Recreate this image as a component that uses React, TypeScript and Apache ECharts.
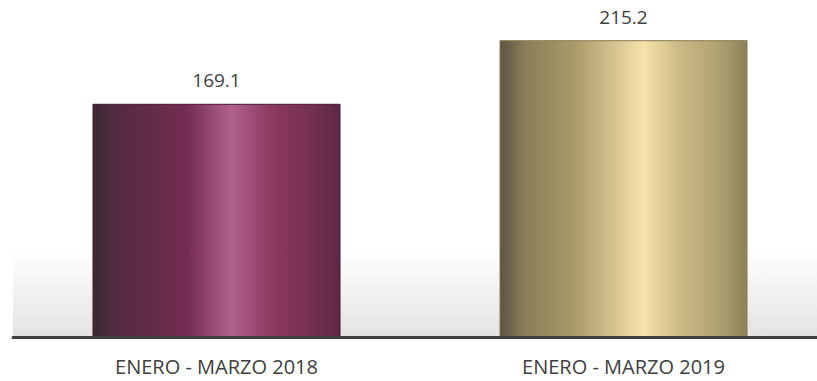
import React, { useEffect, useRef } from "react";
import * as echarts from "echarts";

const categories = ["ENERO - MARZO 2018", "ENERO - MARZO 2019"];
const values = [169.1, 215.2];
const yMax = 240;

const maroon = new echarts.graphic.LinearGradient(0, 0, 1, 0, [
  { offset: 0, color: "#3b2a33" },
  { offset: 0.1, color: "#522b40" },
  { offset: 0.38, color: "#742c52" },
  { offset: 0.56, color: "#b0628a" },
  { offset: 0.72, color: "#8d3a63" },
  { offset: 0.9, color: "#722e50" },
  { offset: 1, color: "#5c2944" },
]);
const gold = new echarts.graphic.LinearGradient(0, 0, 1, 0, [
  { offset: 0, color: "#5c5443" },
  { offset: 0.1, color: "#8a7e58" },
  { offset: 0.3, color: "#a99a69" },
  { offset: 0.58, color: "#f6e2ab" },
  { offset: 0.72, color: "#cdbb86" },
  { offset: 0.9, color: "#ad9e6e" },
  { offset: 1, color: "#8e8158" },
]);
const barColors = [maroon, gold];
const borderColors = ["#4a1530", "#857a4e"];

export default function App() {
  const ref = useRef<HTMLDivElement>(null);
  useEffect(() => {
    if (!ref.current) return;
    const chart = echarts.init(ref.current, undefined, { renderer: "svg" });
    chart.setOption({
      animation: false,
      backgroundColor: "#ffffff",
      textStyle: { fontFamily: "Open Sans" },
      graphic: [
        {
          type: "rect",
          z: -10,
          shape: { x: 13, y: 250, width: 804, height: 87 },
          style: {
            fill: new echarts.graphic.LinearGradient(0, 0, 0, 1, [
              { offset: 0, color: "#ffffff" },
              { offset: 1, color: "#e3e3e3" },
            ]),
          },
          silent: true,
        },
      ],
      grid: {
        left: 13,
        top: 6,
        width: 814,
        height: 331,
        containLabel: false,
        outerBoundsMode: "none",
      },
      xAxis: {
        type: "category",
        data: categories,
        axisLine: { show: true, lineStyle: { color: "#404040", width: 3 } },
        axisTick: { show: false },
        axisLabel: { color: "#404040", fontSize: 20, margin: 19, fontFamily: "Open Sans" },
        z: 10,
      },
      yAxis: {
        type: "value",
        min: 0,
        max: yMax,
        show: false,
        splitLine: { show: false },
      },
      series: [
        {
          type: "bar",
          barWidth: 248,
          data: values.map((v, i) => ({
            value: v,
            itemStyle: { color: barColors[i], borderColor: borderColors[i], borderWidth: 1 },
          })),
          label: {
            show: true,
            position: "top",
            distance: 14,
            color: "#404040",
            fontSize: 19,
            fontFamily: "Open Sans",
            formatter: (p: any) => p.value.toFixed(1),
          },
        },
      ],
    });
    return () => chart.dispose();
  }, []);
  return <div ref={ref} style={{ width: 817, height: 381, position: "absolute", left: 0, top: 0 }} />;
}
